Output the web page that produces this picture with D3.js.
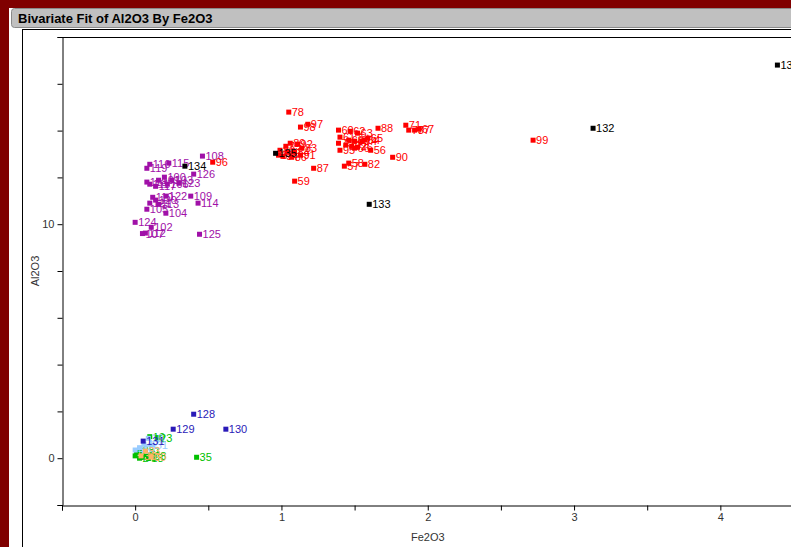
<!DOCTYPE html>
<html>
<head>
<meta charset="utf-8">
<script src="https://cdn.jsdelivr.net/npm/d3@7"></script>
<style>
  body { margin: 0; background: #800000; overflow: hidden; }
  text { font-family: Arial, "Liberation Sans", sans-serif; }
</style>
</head>
<body>
<div class="chart"></div>
<script>
// point groups: label, Fe2O3, Al2O3
const redPts = [
  ["78", 1.05, 14.79], ["97", 1.18, 14.27], ["98", 1.13, 14.15], ["99", 2.72, 13.59],
  ["88", 1.66, 14.10], ["71", 1.85, 14.23], ["73", 1.87, 14.02], ["77", 1.91, 14.02], ["67", 1.94, 14.06],
  ["60", 1.39, 14.02], ["62", 1.47, 13.97], ["63", 1.52, 13.89], ["61", 1.40, 13.72], ["65", 1.59, 13.68],
  ["68", 1.46, 13.59], ["69", 1.50, 13.55], ["74", 1.55, 13.55], ["64", 1.57, 13.60], ["75", 1.39, 13.46],
  ["70", 1.44, 13.38], ["72", 1.48, 13.33], ["76", 1.52, 13.29], ["66", 1.50, 13.25], ["95", 1.40, 13.16],
  ["56", 1.61, 13.16], ["90", 1.76, 12.86], ["82", 1.57, 12.56], ["58", 1.46, 12.61], ["57", 1.43, 12.48],
  ["87", 1.22, 12.39], ["59", 1.09, 11.84],
  ["89", 1.06, 13.46], ["92", 1.11, 13.42], ["83", 1.14, 13.25], ["79", 1.03, 13.33], ["80", 0.99, 13.16],
  ["81", 1.04, 13.08], ["84", 1.09, 13.08], ["91", 1.13, 12.95], ["94", 1.01, 12.90], ["85", 0.98, 12.95],
  ["86", 1.07, 12.86], ["96", 0.53, 12.65]
];
const purplePts = [
  ["108", 0.46, 12.91], ["115", 0.23, 12.61], ["116", 0.10, 12.56], ["119", 0.08, 12.39], ["126", 0.40, 12.14],
  ["100", 0.20, 12.01], ["101", 0.16, 11.88], ["103", 0.25, 11.88], ["106", 0.22, 11.71], ["111", 0.10, 11.71],
  ["117", 0.14, 11.62], ["123", 0.30, 11.75], ["118", 0.08, 11.80],
  ["109", 0.38, 11.20], ["122", 0.21, 11.20], ["114", 0.43, 10.90], ["110", 0.12, 11.15], ["120", 0.14, 11.03],
  ["121", 0.10, 10.90], ["113", 0.16, 10.85], ["105", 0.08, 10.64], ["104", 0.21, 10.47], ["124", 0.00, 10.08],
  ["102", 0.11, 9.87], ["112", 0.07, 9.62], ["107", 0.05, 9.60], ["125", 0.44, 9.57]
];
const blackPts = [
  ["136", 4.39, 16.80], ["132", 3.13, 14.10], ["133", 1.60, 10.85], ["134", 0.34, 12.48], ["135", 0.96, 13.03]
];
const bluePts = [
  ["128", 0.40, 1.88], ["129", 0.26, 1.24], ["130", 0.62, 1.24], ["131", 0.055, 0.73]
];
const greenPts = [
  ["35", 0.42, 0.04], ["23", 0.15, 0.88], ["19", 0.10, 0.92], ["21", 0.07, 0.30], ["1", 0.00, 0.10],
  ["2", 0.03, 0.00], ["5", 0.08, 0.15], ["8", 0.01, 0.25], ["12", 0.05, 0.05], ["18", 0.09, 0.00],
  ["25", 0.03, 0.35], ["28", 0.11, 0.08]
];
const lightBluePts = [
  ["31", 0.12, 0.55], ["40", 0.03, 0.45], ["42", 0.06, 0.60], ["45", 0.00, 0.35], ["10", 0.09, 0.85]
];
const orangePts = [
  ["30", 0.11, 0.05], ["33", 0.07, 0.30], ["36", 0.04, 0.10]
];

const xTicks = d3.range(-0.5, 4.51, 0.5);
const yTicks = d3.range(-2, 18.1, 2);
const xLabels = [0, 1, 2, 3, 4];
const yLabels = [0, 10];

const groups = [
  { pts: greenPts, color: "#00c000" },
  { pts: lightBluePts, color: "#99ccff" },
  { pts: orangePts, color: "#ffb366" },
  { pts: bluePts, color: "#2a1ab8" },
  { pts: purplePts, color: "#a010a8" },
  { pts: redPts, color: "#ff0000" },
  { pts: blackPts, color: "#000000" }
];

const W = 791, H = 547;
const svg = d3.select(".chart").append("svg")
    .attr("width", W)
    .attr("height", H);

// panel + title bar
svg.append("rect").attr("x", 9).attr("y", 8).attr("width", W).attr("height", H).attr("fill", "#fff");
svg.append("rect").attr("x", 11.5).attr("y", 8.5).attr("width", W).attr("height", 19).attr("rx", 3)
    .attr("fill", "#c0c0c0").attr("stroke", "#8a8a8a");
svg.append("text").attr("x", 18).attr("y", 23).attr("font-size", 13).attr("font-weight", "bold")
    .text("Bivariate Fit of Al2O3 By Fe2O3");
svg.append("line").attr("x1", 22.5).attr("x2", 22.5).attr("y1", 29).attr("y2", H).attr("stroke", "#000");
svg.append("line").attr("x1", 22).attr("x2", W).attr("y1", 29.5).attr("y2", 29.5).attr("stroke", "#000");

const x = d3.scaleLinear().domain([-0.5, 4.5]).range([62, 793.5]);
const y = d3.scaleLinear().domain([-2, 18]).range([505, 37]);

const g = svg.append("g");

// frame
g.append("line").attr("x1", 59).attr("x2", W).attr("y1", 37.5).attr("y2", 37.5).attr("stroke", "#000");

const yAxis = d3.axisLeft(y).tickValues(yTicks).tickSize(5)
    .tickFormat(d => yLabels.includes(d) ? d : "");
g.append("g").attr("transform", "translate(62.5,0)").call(yAxis)
    .call(a => a.select(".domain").attr("stroke", "#000"));

const xAxis = d3.axisBottom(x).tickValues(xTicks).tickSize(5)
    .tickFormat(d => xLabels.includes(d) ? d : "");
g.append("g").attr("transform", "translate(0,505.5)").call(xAxis)
    .call(a => a.select(".domain").attr("stroke", "#000"));

g.selectAll(".tick text").attr("font-size", 11).attr("fill", "#333")
    .attr("font-family", "Arial, 'Liberation Sans', sans-serif");
g.selectAll(".tick line").attr("stroke", "#000");

svg.append("text").attr("x", x(2)).attr("y", 541).attr("text-anchor", "middle")
    .attr("font-size", 11).attr("fill", "#333").text("Fe2O3");
svg.append("text").attr("transform", `translate(39,${y(8)}) rotate(-90)`).attr("text-anchor", "middle")
    .attr("font-size", 11).attr("fill", "#333").text("Al2O3");

// points
groups.forEach(grp => {
  const pg = svg.append("g");
  pg.selectAll("rect")
    .data(grp.pts)
    .join("rect")
    .attr("x", d => x(d[1]) - 2.5)
    .attr("y", d => y(d[2]) - 2.5)
    .attr("width", 5)
    .attr("height", 5)
    .attr("fill", grp.color);
  pg.selectAll("text")
    .data(grp.pts)
    .join("text")
    .attr("x", d => x(d[1]) + 3)
    .attr("y", d => y(d[2]) + 4)
    .attr("font-size", 11)
    .attr("fill", grp.color)
    .text(d => d[0]);
});
</script>
</body>
</html>
